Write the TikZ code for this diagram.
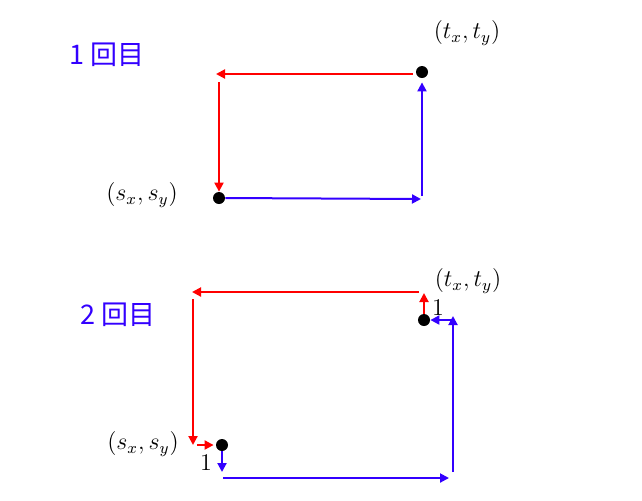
\documentclass[tikz,border=0pt]{standalone}
\usepackage{fontspec}
\newfontfamily\jpfont{Noto Sans CJK JP}
\usetikzlibrary{arrows.meta,positioning}
\definecolor{pathblue}{RGB}{51,0,255}
\definecolor{pathred}{RGB}{255,0,0}

\begin{document}
\begin{tikzpicture}[x=0.5pt,y=-0.5pt,
		redarr/.style={draw=pathred, line width=1pt, -{Triangle[length=4.5pt,width=4.5pt]}},
		bluearr/.style={draw=pathblue, line width=1pt, -{Triangle[length=4.5pt,width=4.5pt]}},
		pt/.style={circle, fill=black, inner sep=0pt, minimum size=6pt},
		lbl/.style={font=\fontsize{12}{14}\selectfont},
		title/.style={font=\jpfont\fontsize{13.5}{15}\selectfont, text=pathblue}]
		\useasboundingbox (0,0) rectangle (642,500);
		% 1 回目
		\node[title] (first) at (107,55) {1 回目};
		\node[pt] (t1) at (422,72) {};
		\node[pt] (s1) at (219,198) {};
		\node[lbl] (t1lbl) at (467,33) {$(t_x,t_y)$};
		\node[lbl] (s1lbl) at (142,195) {$(s_x,s_y)$};
		\coordinate (r1a) at (413,74);
		\coordinate (r1b) at (216,74);
		\coordinate (r1c) at (219,82);
		\coordinate (b1a) at (421,199);
		\coordinate (b1b) at (422,196);
		\draw[redarr] (r1a) -- (r1b);
		\draw[redarr] (r1c) -- (s1);
		\draw[bluearr] (s1.east) -- (b1a);
		\draw[bluearr, shorten >=2pt] (b1b) -- (t1);
		% 2 回目
		\node[title] (second) at (118,315) {2 回目};
		\node[pt] (t2) at (424,320) {};
		\node[pt] (s2) at (222,445) {};
		\node[lbl] (t2lbl) at (468,281) {$(t_x,t_y)$};
		\node[lbl] (s2lbl) at (143,444) {$(s_x,s_y)$};
		\node[lbl] (t2one) at (438,308) {1};
		\node[lbl] (s2one) at (206,463) {1};
		\coordinate (r2a) at (424,293);
		\coordinate (r2b) at (419,292);
		\coordinate (r2c) at (192,292);
		\coordinate (r2d) at (193,299);
		\coordinate (r2e) at (193,445);
		\coordinate (r2f) at (197,445);
		\coordinate (b2a) at (222,472);
		\coordinate (b2b) at (223,478);
		\coordinate (b2c) at (449,478);
		\coordinate (b2d) at (453,472);
		\coordinate (b2e) at (453,316);
		\coordinate (b2f) at (453,320);
		\draw[redarr] (t2) -- (r2a);
		\draw[redarr] (r2b) -- (r2c);
		\draw[redarr] (r2d) -- (r2e);
		\draw[redarr, shorten >=1pt] (r2f) -- (s2);
		\draw[bluearr] (s2) -- (b2a);
		\draw[bluearr] (b2b) -- (b2c);
		\draw[bluearr] (b2d) -- (b2e);
		\draw[bluearr] (b2f) -- (t2);
\end{tikzpicture}
\end{document}
